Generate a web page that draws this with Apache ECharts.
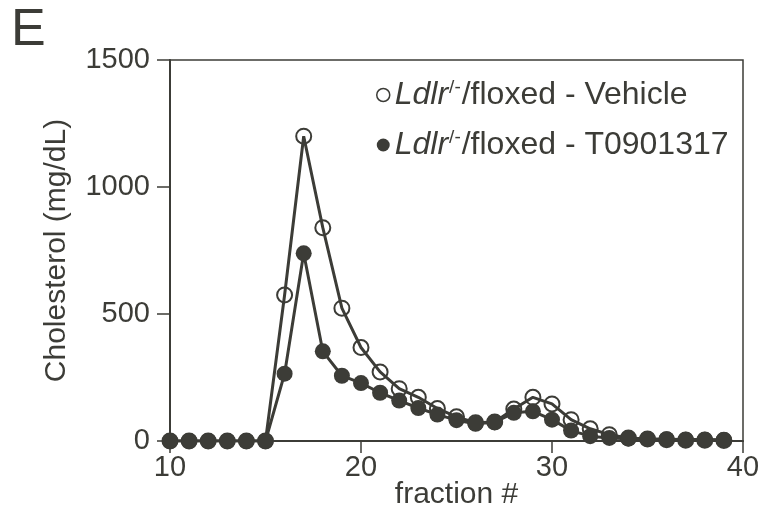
<!DOCTYPE html>
<html>
<head>
<meta charset="utf-8">
<style>
  html, body { margin: 0; padding: 0; background: #fff; }
  #chart { width: 759px; height: 511px; }
</style>
<script src="https://cdn.jsdelivr.net/npm/echarts@6/dist/echarts.min.js"></script>
</head>
<body>
<div id="chart"></div>
<script>
// fraction numbers on the x axis
const fractions = [10, 11, 12, 13, 14, 15, 16, 17, 18, 19, 20, 21, 22, 23, 24,
  25, 26, 27, 28, 29, 30, 31, 32, 33, 34, 35, 36, 37, 38, 39];
// cholesterol (mg/dL), open circles
const vehicle = [0, 0, 0, 0, 0, 0, 575, 1200, 840, 523, 368, 272, 206, 172, 128,
  95, 72, 75, 126, 172, 146, 84, 48, 25, 12, 8, 5, 3, 3, 2];
// cholesterol (mg/dL), filled circles
const treated = [0, 0, 0, 0, 0, 0, 265, 739, 353, 257, 228, 190, 159, 130, 104,
  82, 68, 74, 111, 117, 84, 41, 19, 12, 9, 8, 7, 6, 6, 5];
const seriesNames = ["Ldlr-/-/floxed - Vehicle", "Ldlr-/-/floxed - T0901317"];
const legendSuffix = ["/floxed - Vehicle", "/floxed - T0901317"];

const ink = "#3c3c37";
const font = "Liberation Sans";

function pairs(ys) {
  return fractions.map((x, i) => [x, ys[i]]);
}

const chart = echarts.init(document.getElementById("chart"));
const option = {
  animation: false,
  textStyle: { fontFamily: font, color: ink },
  title: {
    text: "E",
    left: 6,
    top: 0,
    textStyle: { fontFamily: font, color: ink, fontSize: 52, fontWeight: "normal" },
  },
  grid: {
    left: 170,
    right: 16,
    top: 60,
    bottom: 70,
    show: true,
    borderColor: ink,
    borderWidth: 1.5,
    containLabel: false,
    outerBoundsMode: "none",
  },
  legend: {
    orient: "vertical",
    left: 371,
    top: 73,
    itemGap: 17,
    itemWidth: 13,
    itemHeight: 13,
    data: [
      {
        name: seriesNames[0],
        icon: "circle",
        itemStyle: { color: "#fff", borderColor: ink, borderWidth: 1.5 },
      },
      { name: seriesNames[1], icon: "circle", itemStyle: { color: ink, borderWidth: 0 } },
    ],
    formatter: function (name) {
      const k = seriesNames.indexOf(name);
      return "{i|Ldlr}{s|/-}{n|" + legendSuffix[k] + "}";
    },
    textStyle: {
      color: ink,
      fontFamily: font,
      fontSize: 32,
      rich: {
        i: { fontSize: 32, fontStyle: "italic", color: ink, fontFamily: font },
        s: { fontSize: 19, color: ink, fontFamily: font, padding: [0, 1, 15, 1] },
        n: { fontSize: 32, color: ink, fontFamily: font },
      },
    },
  },
  xAxis: {
    type: "value",
    min: 10,
    max: 40,
    interval: 10,
    name: "fraction #",
    nameLocation: "middle",
    nameGap: 39,
    nameMoveOverlap: false,
    nameTextStyle: { fontSize: 30, color: ink, fontFamily: font },
    axisLine: { show: true, lineStyle: { color: ink, width: 2 } },
    axisTick: { show: true, inside: false, length: 12, lineStyle: { color: ink, width: 1.5 } },
    axisLabel: { fontSize: 29, color: ink, fontFamily: font, margin: 12 },
    splitLine: { show: false },
  },
  yAxis: {
    type: "value",
    min: 0,
    max: 1500,
    interval: 500,
    name: "Cholesterol (mg/dL)",
    nameLocation: "middle",
    nameGap: 98,
    nameMoveOverlap: false,
    nameTextStyle: { fontSize: 30, color: ink, fontFamily: font },
    axisLine: { show: true, lineStyle: { color: ink, width: 2 } },
    axisTick: { show: true, inside: false, length: 13, lineStyle: { color: ink, width: 1.5 } },
    axisLabel: {
      fontSize: 29,
      color: ink,
      fontFamily: font,
      margin: 20,
      formatter: (v) => String(v),
    },
    splitLine: { show: false },
  },
  series: [
    {
      name: seriesNames[0],
      type: "line",
      data: pairs(vehicle),
      symbol: "circle",
      symbolSize: 15,
      itemStyle: { color: "rgba(255,255,255,0)", borderColor: ink, borderWidth: 2 },
      lineStyle: { color: ink, width: 3 },
      z: 2,
    },
    {
      name: seriesNames[1],
      type: "line",
      data: pairs(treated),
      symbol: "circle",
      symbolSize: 16,
      itemStyle: { color: ink, borderWidth: 0 },
      lineStyle: { color: ink, width: 3 },
      z: 3,
    },
  ],
};
chart.setOption(option);
</script>
</body>
</html>
